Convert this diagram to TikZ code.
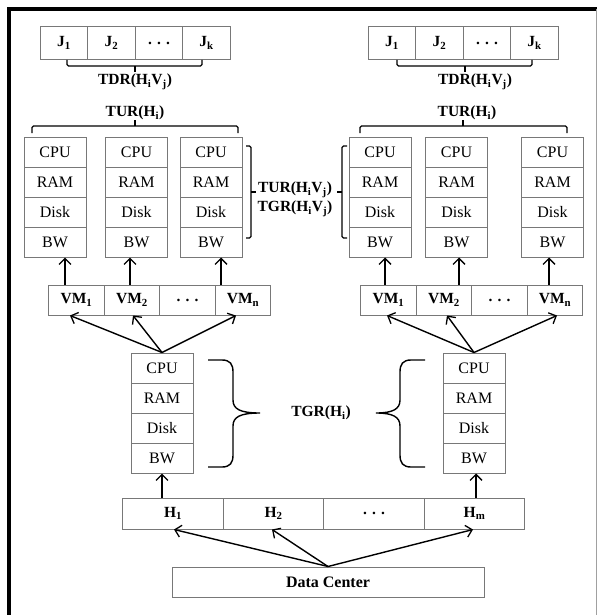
\documentclass[tikz,border=0pt]{standalone}
\usepackage{fontspec}
\setmainfont{Liberation Serif}
\usetikzlibrary{arrows.meta}
\definecolor{boxgray}{RGB}{120,120,120}
\begin{document}
\begin{tikzpicture}[x=1pt,y=-1pt,
  cell/.style={draw=boxgray, line width=1pt, inner sep=0pt, minimum height=30pt, font=\fontsize{16}{18}\selectfont},
  bcell/.style={cell, font=\fontsize{15.5}{18}\selectfont\bfseries},
  arr/.style={-{Straight Barb[length=6pt,width=12pt,line width=1.3pt]}, line width=1.4pt, black},
  brk/.style={line width=1.4pt, rounded corners=1.5pt},
  crv/.style={line width=1.4pt},
  lbl/.style={font=\fontsize{15.5}{18}\selectfont\bfseries, inner sep=0pt}]
\useasboundingbox (0,0) rectangle (599,615);
% frame
\draw[line width=4pt] (8.5,615) -- (8.5,9.5) -- (597,9.5);
\draw[boxgray!70, line width=1pt] (596.5,9.5) -- (596.5,615);

% J rows
\foreach \s/\xa in {l/64, r/392} {
  \node[bcell, minimum width=47.5pt, minimum height=33pt] (\s j1) at (\xa,43) {J\textsubscript{1}};
  \node[bcell, minimum width=47.5pt, minimum height=33pt] (\s j2) at (\xa+47.5,43) {J\textsubscript{2}};
  \node[bcell, minimum width=47.5pt, minimum height=33pt] (\s j3) at (\xa+95,43) {. . .};
  \node[bcell, minimum width=47.5pt, minimum height=33pt] (\s j4) at (\xa+142.5,43) {J\textsubscript{k}};
}

% VM resource boxes and host resource boxes
\foreach \n/\x/\y in {la/55/152, lb/136.5/152, lc/211/152, ra/380/152, rb/456.5/152, rc/552.5/152, lh/162/368, rh/474/368} {
  \node[cell, minimum width=62pt] (\n1) at (\x,\y) {CPU};
  \node[cell, minimum width=62pt] (\n2) at (\x,\y+30) {RAM};
  \node[cell, minimum width=62pt] (\n3) at (\x,\y+60) {Disk};
  \node[cell, minimum width=62pt] (\n4) at (\x,\y+90) {BW};
}

% VM rows
\foreach \s/\xa in {l/76.5, r/388.5} {
  \node[bcell, minimum width=55.5pt] (\s v1) at (\xa,300) {VM\textsubscript{1}};
  \node[bcell, minimum width=55.5pt] (\s v2) at (\xa+55.5,300) {VM\textsubscript{2}};
  \node[bcell, minimum width=55.5pt] (\s v3) at (\xa+111,300) {. . .};
  \node[bcell, minimum width=55.5pt] (\s v4) at (\xa+166.5,300) {VM\textsubscript{n}};
}

% Host row
\node[bcell, minimum width=100.5pt, minimum height=31pt] (h1) at (173,513.5) {H\textsubscript{1}};
\node[bcell, minimum width=100.5pt, minimum height=31pt] (h2) at (273.5,513.5) {H\textsubscript{2}};
\node[bcell, minimum width=100.5pt, minimum height=31pt] (h3) at (374,513.5) {. . .};
\node[bcell, minimum width=100.5pt, minimum height=31pt] (h4) at (474.5,513.5) {H\textsubscript{m}};

% Data center
\node[bcell, minimum width=312pt, font=\fontsize{16}{18}\selectfont\bfseries] (dc) at (328,582) {Data Center};

% arrows VM -> resources
\draw[arr] (lv1.north -| 65,0) -- (la4.south -| 65,0);
\draw[arr] (lv2.north -| 130,0) -- (lb4.south -| 130,0);
\draw[arr] (lv4.north -| 221,0) -- (lc4.south -| 221,0);
\draw[arr] (rv1.north -| 385,0) -- (ra4.south -| 385,0);
\draw[arr] (rv2.north -| 459,0) -- (rb4.south -| 459,0);
\draw[arr] (rv4.north -| 549,0) -- (rc4.south -| 549,0);

% host -> VMs
\draw[arr] (lh1.north) -- (lv1.south -| 70,0);
\draw[arr] (lh1.north) -- (lv2.south -| 133,0);
\draw[arr] (lh1.north) -- (lv4.south -| 236,0);
\draw[arr] (rh1.north) -- (rv1.south -| 387,0);
\draw[arr] (rh1.north) -- (rv2.south -| 447,0);
\draw[arr] (rh1.north) -- (rv4.south -| 557,0);

% H row -> hosts
\draw[arr] (h1.north -| lh4.south) -- (lh4.south);
\draw[arr] (h4.north -| 476,0) -- (rh4.south -| 476,0);

% DC -> H
\draw[arr] (dc.north) -- (h1.south -| 174,0);
\draw[arr] (dc.north) -- (h2.south -| 272,0);
\draw[arr] (dc.north) -- (h4.south -| 473,0);

% brackets under J rows
\draw[brk] (67,60) -- (67,66) -- (202,66) -- (202,60);
\draw[crv] (135,66) -- (135,72);
\draw[brk] (397,60) -- (397,66) -- (532,66) -- (532,60);
\draw[crv] (465,66) -- (465,72);
% brackets above VM resource boxes
\draw[brk] (32,133) -- (32,126) -- (238,126) -- (238,133);
\draw[crv] (135,126) -- (135,120);
\draw[brk] (360,133) -- (360,126) -- (567,126) -- (567,133);
\draw[crv] (463,126) -- (463,120);
% vertical brackets
\draw[brk] (246,146) -- (251,146) -- (251,238) -- (246,238);
\draw[crv] (251,192) -- (256,192);
\draw[brk] (347,146) -- (342,146) -- (342,238) -- (347,238);
\draw[crv] (342,192) -- (337,192);
% TGR braces
\draw[crv] (208,360) -- (222,360) .. controls (230,360) and (233,364) .. (233,372) -- (233,400)
  .. controls (233,409) and (240,413) .. (260,413)
  .. controls (240,413) and (233,417) .. (233,426) -- (233,455)
  .. controls (233,463) and (230,467) .. (222,467) -- (208,467);
\draw[crv] (425,360) -- (411,360) .. controls (403,360) and (400,364) .. (400,372) -- (400,400)
  .. controls (400,409) and (393,413) .. (376,413)
  .. controls (393,413) and (400,417) .. (400,426) -- (400,455)
  .. controls (400,463) and (403,467) .. (411,467) -- (425,467);

% labels
\node[lbl] (tdrl) at (135,82) {TDR(H\textsubscript{i}V\textsubscript{j})};
\node[lbl] (tdrr) at (475,82) {TDR(H\textsubscript{i}V\textsubscript{j})};
\node[lbl] (turl) at (135,113) {TUR(H\textsubscript{i})};
\node[lbl] (turr) at (467,113) {TUR(H\textsubscript{i})};
\node[lbl] (turhv) at (295,190) {TUR(H\textsubscript{i}V\textsubscript{j})};
\node[lbl] (tgrhv) at (295,209) {TGR(H\textsubscript{i}V\textsubscript{j})};
\node[lbl] (tgrh) at (321,413) {TGR(H\textsubscript{i})};
\end{tikzpicture}
\end{document}
